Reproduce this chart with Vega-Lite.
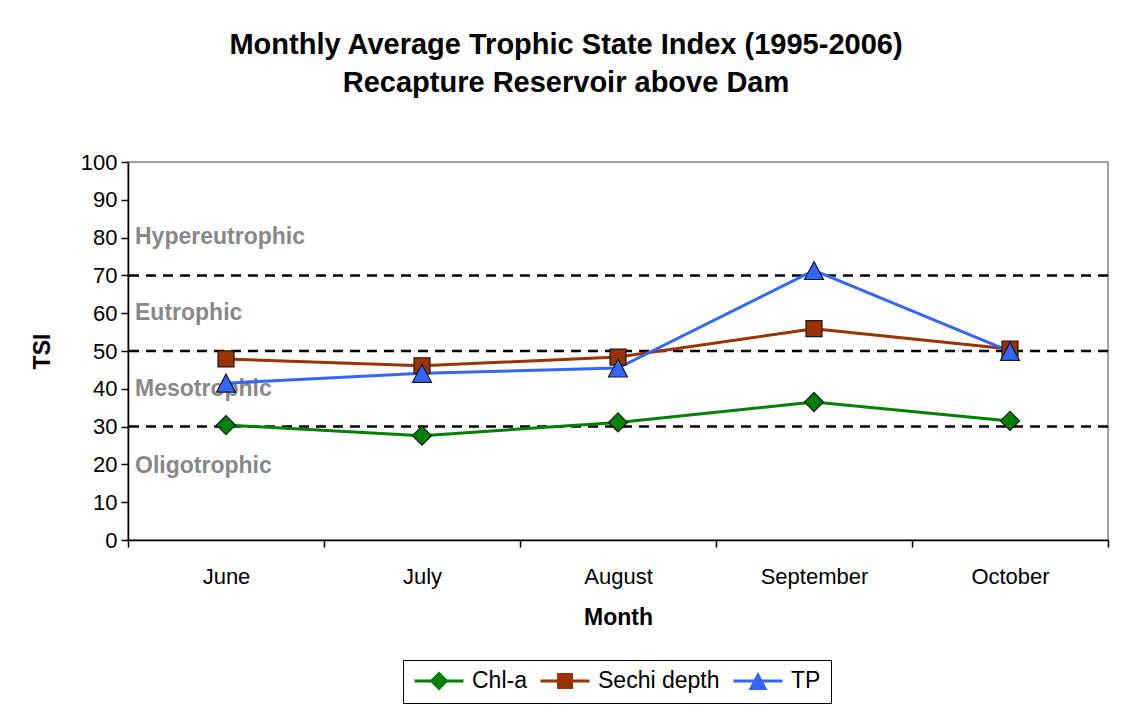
{
  "$schema": "https://vega.github.io/schema/vega-lite/v6.json",
  "width": 980,
  "height": 378,
  "autosize": {"type": "none"},
  "padding": {"left": 128, "top": 162, "right": 16, "bottom": 172},
  "background": "white",
  "title": {
    "text": ["Monthly Average Trophic State Index (1995-2006)", "Recapture Reservoir above Dam"],
    "font": "Liberation Sans",
    "fontSize": 29,
    "fontWeight": "bold",
    "color": "black",
    "anchor": "middle",
    "frame": "group",
    "dx": -52,
    "offset": 53,
    "lineHeight": 38
  },
  "datasets": {
    "tsi": [
      {"month": "June", "series": "Chl-a", "tsi": 30.4},
      {"month": "July", "series": "Chl-a", "tsi": 27.6},
      {"month": "August", "series": "Chl-a", "tsi": 31.1},
      {"month": "September", "series": "Chl-a", "tsi": 36.5},
      {"month": "October", "series": "Chl-a", "tsi": 31.5},
      {"month": "June", "series": "Sechi depth", "tsi": 47.9},
      {"month": "July", "series": "Sechi depth", "tsi": 46.1},
      {"month": "August", "series": "Sechi depth", "tsi": 48.4},
      {"month": "September", "series": "Sechi depth", "tsi": 55.9},
      {"month": "October", "series": "Sechi depth", "tsi": 50.5},
      {"month": "June", "series": "TP", "tsi": 41.5},
      {"month": "July", "series": "TP", "tsi": 44.1},
      {"month": "August", "series": "TP", "tsi": 45.5},
      {"month": "September", "series": "TP", "tsi": 71.3},
      {"month": "October", "series": "TP", "tsi": 49.9}
    ],
    "thresholds": [{"tsi": 30}, {"tsi": 50}, {"tsi": 70}],
    "zones": [
      {"month": "June", "zone": "Hypereutrophic", "tsi": 80.2},
      {"month": "June", "zone": "Eutrophic", "tsi": 60},
      {"month": "June", "zone": "Mesotrophic", "tsi": 40},
      {"month": "June", "zone": "Oligotrophic", "tsi": 19.5}
    ]
  },
  "config": {
    "font": "Liberation Sans",
    "view": {"stroke": "#808080", "strokeWidth": 1.5},
    "axis": {
      "domainColor": "black",
      "domainWidth": 1.5,
      "tickColor": "black",
      "tickWidth": 1.5,
      "tickSize": 7,
      "labelColor": "black",
      "labelFont": "Liberation Sans",
      "labelFontSize": 22,
      "labelOverlap": false,
      "titleFont": "Liberation Sans",
      "titleFontSize": 23,
      "titleFontWeight": "bold",
      "titleColor": "black",
      "grid": false
    }
  },
  "layer": [
    {
      "data": {"name": "thresholds"},
      "mark": {"type": "rule", "color": "black", "strokeWidth": 2.5, "strokeDash": [10, 7]},
      "encoding": {
        "y": {
          "field": "tsi", "type": "quantitative",
          "scale": {"domain": [0, 100]},
          "axis": {"title": "TSI", "values": [0, 10, 20, 30, 40, 50, 60, 70, 80, 90, 100], "labelOverlap": false, "labelPadding": 4, "titlePadding": 26}
        }
      }
    },
    {
      "data": {"name": "zones"},
      "mark": {"type": "text", "align": "left", "baseline": "middle", "dx": 7, "fontSize": 23, "fontWeight": "bold", "color": "#888888", "font": "Liberation Sans"},
      "encoding": {
        "x": {
          "field": "month", "type": "ordinal", "sort": ["June", "July", "August", "September", "October"], "bandPosition": 0,
          "scale": {"type": "band", "paddingInner": 0, "paddingOuter": 0},
          "axis": {"title": "Month", "labelAngle": 0, "labelAlign": "center", "tickBand": "extent", "labelPadding": 19, "titlePadding": 19}
        },
        "y": {
          "field": "tsi", "type": "quantitative",
          "axis": {"title": "TSI", "values": [0, 10, 20, 30, 40, 50, 60, 70, 80, 90, 100], "labelOverlap": false, "labelPadding": 4, "titlePadding": 26}
        },
        "text": {"field": "zone"}
      }
    },
    {
      "data": {"name": "tsi"},
      "mark": {"type": "line", "strokeWidth": 3},
      "encoding": {
        "x": {
          "field": "month", "type": "ordinal",
          "sort": ["June", "July", "August", "September", "October"],
          "scale": {"type": "band", "paddingInner": 0, "paddingOuter": 0},
          "axis": {"title": "Month", "labelAngle": 0, "labelAlign": "center", "tickBand": "extent", "labelPadding": 19, "titlePadding": 19}
        },
        "y": {
          "field": "tsi", "type": "quantitative",
          "scale": {"domain": [0, 100]},
          "axis": {"title": "TSI", "values": [0, 10, 20, 30, 40, 50, 60, 70, 80, 90, 100], "labelOverlap": false, "labelPadding": 4, "titlePadding": 26}
        },
        "color": {
          "field": "series", "type": "nominal",
          "scale": {"domain": ["Chl-a", "Sechi depth", "TP"], "range": ["#008000", "#993300", "#3366FF"]},
          "legend": {
            "orient": "none", "legendX": 275, "legendY": 498, "direction": "horizontal", "title": null,
            "clipHeight": 22, "symbolSize": 2401, "symbolStrokeWidth": 3, "symbolType": "stroke",
            "strokeColor": "black", "fillColor": "white", "padding": 10,
            "labelFontSize": 23, "labelFont": "Liberation Sans", "labelColor": "black",
            "labelOffset": 7, "columnPadding": 12, "labelLimit": 300
          }
        }
      }
    },
    {
      "data": {"name": "tsi"},
      "mark": {"type": "point", "filled": true, "size": 2500, "stroke": "#1a1a1a", "strokeWidth": 1.2, "opacity": 1},
      "encoding": {
        "x": {
          "field": "month", "type": "ordinal", "sort": ["June", "July", "August", "September", "October"],
          "scale": {"type": "band", "paddingInner": 0, "paddingOuter": 0},
          "axis": {"title": "Month", "labelAngle": 0, "labelAlign": "center", "tickBand": "extent", "labelPadding": 19, "titlePadding": 19}
        },
        "y": {
          "field": "tsi", "type": "quantitative",
          "axis": {"title": "TSI", "values": [0, 10, 20, 30, 40, 50, 60, 70, 80, 90, 100], "labelOverlap": false, "labelPadding": 4, "titlePadding": 26}
        },
        "fill": {
          "field": "series", "type": "nominal",
          "scale": {"range": ["#008000", "#993300", "#3366FF"]},
          "legend": {
            "orient": "none", "legendX": 275, "legendY": 498, "direction": "horizontal", "title": null,
            "clipHeight": 22, "symbolSize": 2500, "symbolStrokeWidth": 1.2, "symbolStrokeColor": "#1a1a1a", "symbolOpacity": 1,
            "padding": 10, "labelFontSize": 23, "labelFont": "Liberation Sans", "labelOpacity": 0,
            "labelOffset": 7, "columnPadding": 12, "labelLimit": 300
          }
        },
        "shape": {
          "field": "series", "type": "nominal",
          "scale": {"range": [
            "M0,-0.38L0.38,0L0,0.38L-0.38,0Z",
            "M-0.32,-0.32H0.32V0.32H-0.32Z",
            "M0,-0.36L0.38,0.36L-0.38,0.36Z"
          ]},
          "legend": {
            "orient": "none", "legendX": 275, "legendY": 498, "direction": "horizontal", "title": null,
            "clipHeight": 22, "symbolSize": 2500, "symbolStrokeWidth": 1.2, "symbolStrokeColor": "#1a1a1a", "symbolOpacity": 1,
            "padding": 10, "labelFontSize": 23, "labelFont": "Liberation Sans", "labelOpacity": 0,
            "labelOffset": 7, "columnPadding": 12, "labelLimit": 300
          }
        }
      }
    }
  ]
}
